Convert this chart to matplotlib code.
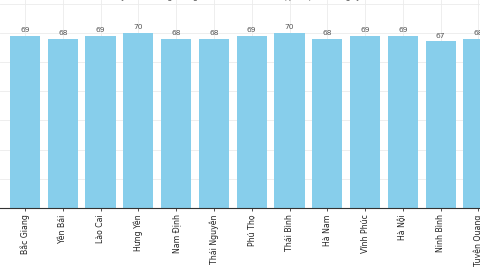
import matplotlib.pyplot as plt

# Provinces and their values
provinces = ['Bắc Giang', 'Yên Bái', 'Lào Cai', 'Hưng Yên', 'Nam Định', 'Thái Nguyên',
             'Phú Thọ', 'Thái Bình', 'Hà Nam', 'Vĩnh Phúc', 'Hà Nội', 'Ninh Bình',
             'Tuyên Quang']
values = [69, 68, 69, 70, 68, 68, 69, 70, 68, 69, 69, 67, 68]
y_ticks = [10, 20, 30, 40, 50, 60, 70, 80]

fig = plt.figure(figsize=(4.8, 2.7), dpi=100)
# the chart is a crop of a bigger figure, so the axes run off the edges
ax = fig.add_axes([0.0, 62 / 270, 1.0, 208 / 270])

x = list(range(len(provinces)))
bars = ax.bar(x, values, width=0.8, color='#87CEEB', zorder=2)
ax.bar_label(bars, labels=[str(v) for v in values], padding=2,
             fontsize=5.4, color='#555555')

ax.set_xlim(-0.661, 12.04)
ax.set_ylim(10, 81.2)
ax.set_yticks(y_ticks)
ax.set_xticks(x)
ax.set_xticklabels(provinces, rotation=90, fontsize=5.6, color='#222222')
ax.tick_params(axis='x', length=2.5, width=0.6, pad=2, color='#333333')
ax.tick_params(axis='y', length=0, labelleft=False)

ax.grid(True, color='#ebebeb', linewidth=0.6, zorder=0)
ax.set_axisbelow(True)
for side in ['top', 'right', 'left']:
    ax.spines[side].set_visible(False)
ax.spines['bottom'].set_color('#333333')
ax.spines['bottom'].set_linewidth(0.8)

# title sits just above the crop, only descenders show
fig.text(0.5, 1.005, 'Tỷ lệ hài lòng trung bình theo tỉnh (%, cập nhật theo ngày)',
         ha='center', va='baseline', fontsize=6, color='#555555')

fig.savefig('out.png', dpi=100, facecolor='white')
